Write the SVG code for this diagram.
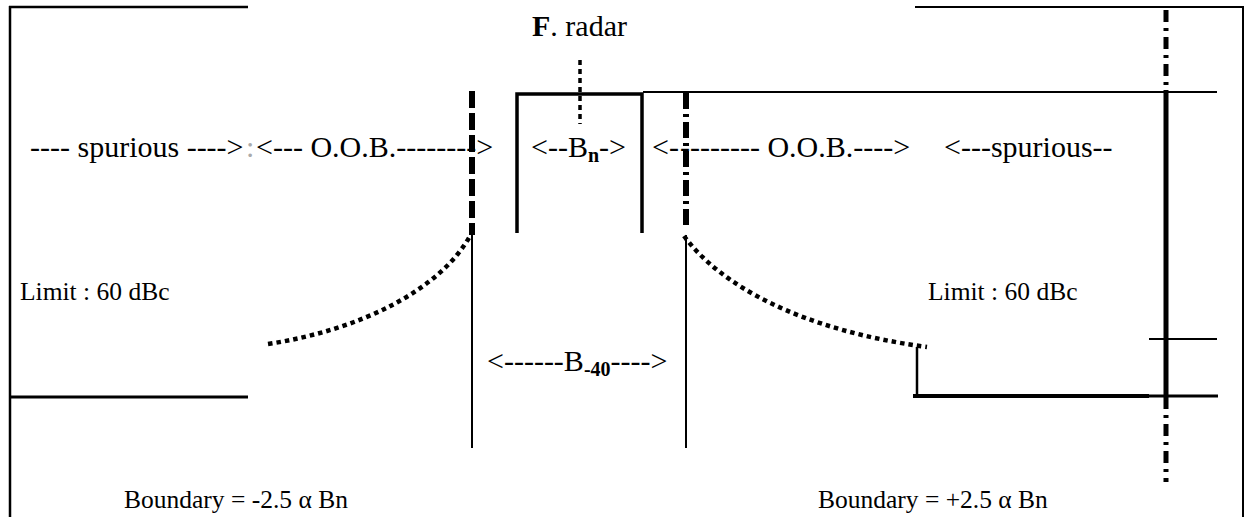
<svg xmlns="http://www.w3.org/2000/svg" width="1254" height="517" viewBox="0 0 1254 517">
<style>
  text { font-family: "Liberation Serif", serif; font-size: 30px; fill: #000; }
  .sm { font-size: 25.5px; }
  .sub { font-size: 20px; font-weight: bold; }
  .faint { fill: #aaa; }
  .ln { stroke: #000; fill: none; }
  .dot { stroke: #000; fill: none; stroke-width: 4.5; stroke-dasharray: 4.5 4; }
</style>
<rect width="1254" height="517" fill="#fff"/>
<g id="frame">
  <line class="ln" x1="10" y1="6" x2="10" y2="517" stroke-width="2.5"/>
  <line class="ln" x1="9" y1="7" x2="248" y2="7" stroke-width="2.5"/>
  <line class="ln" x1="10" y1="397" x2="248" y2="397" stroke-width="3"/>
  <line class="ln" x1="1243" y1="6" x2="1243" y2="517" stroke-width="2"/>
  <line class="ln" x1="915" y1="7" x2="1244" y2="7" stroke-width="2"/>
  <line class="ln" x1="643" y1="92" x2="1217" y2="92" stroke-width="2"/>
</g>
<g id="radar-band">
  <path class="ln" d="M517,233 V94 H642 V233" stroke-width="3.5"/>
  <line class="ln" x1="580" y1="60" x2="580" y2="124" stroke-width="3.5" stroke-dasharray="5 4"/>
</g>
<g id="left-boundary">
  <line class="ln" x1="472" y1="91" x2="472" y2="235" stroke-width="6" stroke-dasharray="17 5"/>
  <line class="ln" x1="472" y1="235" x2="472" y2="448" stroke-width="2"/>
</g>
<g id="right-boundary">
  <line class="ln" x1="686" y1="93" x2="686" y2="227" stroke-width="6" stroke-dasharray="16 5 3 5"/>
  <line class="ln" x1="686" y1="235" x2="686" y2="448" stroke-width="2"/>
</g>
<g id="far-right">
  <line class="ln" x1="1166" y1="10" x2="1166" y2="90" stroke-width="5" stroke-dasharray="12 6 3 6"/>
  <line class="ln" x1="1166" y1="90" x2="1166" y2="397" stroke-width="5"/>
  <line class="ln" x1="1166" y1="397" x2="1166" y2="482" stroke-width="5" stroke-dasharray="12 6 3 6"/>
  <line class="ln" x1="1149" y1="339" x2="1217" y2="339" stroke-width="2"/>
  <line class="ln" x1="1149" y1="396" x2="1218" y2="396" stroke-width="3"/>
</g>
<g id="limit-right">
  <line class="ln" x1="917" y1="347" x2="917" y2="396" stroke-width="2.5"/>
  <line class="ln" x1="913" y1="396" x2="1149" y2="396" stroke-width="4"/>
</g>
<g id="connectors">
  <path class="dot" d="M268,344 C360,330 440,290 470,236"/>
  <path class="dot" d="M684,236 C720,285 800,330 927,347"/>
</g>
<g id="labels">
  <text x="532" y="36"><tspan font-weight="bold">F</tspan>. radar</text>
  <text x="30" y="157">---- spurious ----&gt;</text>
  <text class="faint" x="246" y="157">:</text>
  <text x="256" y="157">&lt;--- O.O.B.--------&gt;</text>
  <text x="531" y="157">&lt;--B<tspan class="sub" dy="5">n</tspan><tspan dy="-5">-&gt;</tspan></text>
  <text x="652" y="157">&lt;-</text>
  <text x="680" y="157">-------- O.O.B.----&gt;</text>
  <text x="944" y="157">&lt;---spurious--</text>
  <text class="sm" x="20" y="300">Limit : 60 dBc</text>
  <text class="sm" x="928" y="300">Limit : 60 dBc</text>
  <text x="487" y="371">&lt;------B<tspan class="sub" dy="5">-40</tspan><tspan dy="-5">----&gt;</tspan></text>
  <text class="sm" x="124" y="508">Boundary = -2.5 α Bn</text>
  <text class="sm" x="818" y="508">Boundary = +2.5 α Bn</text>
</g>
</svg>
